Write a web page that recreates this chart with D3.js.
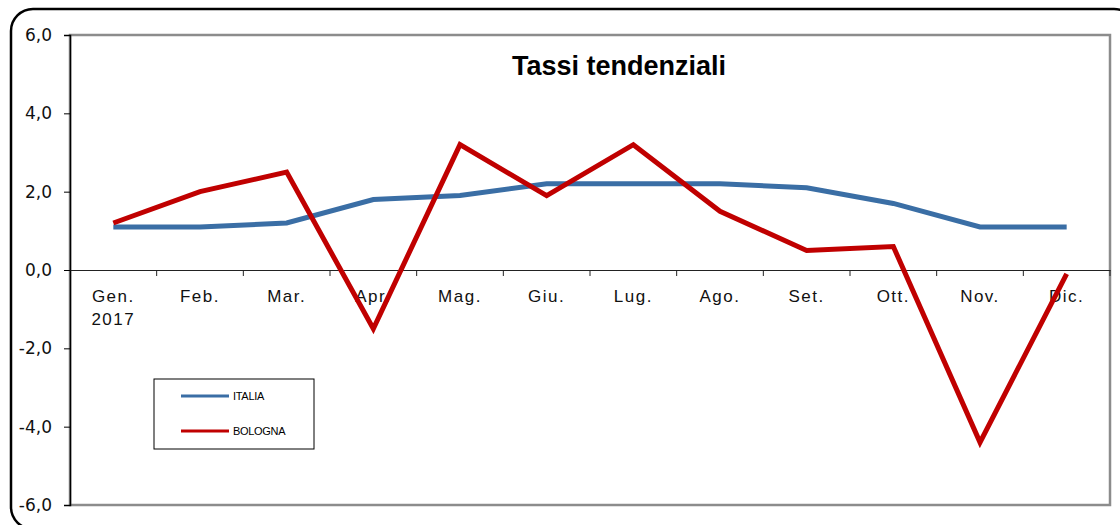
<!DOCTYPE html>
<html>
<head>
<meta charset="utf-8">
<script src="https://cdn.jsdelivr.net/npm/d3@7"></script>
<style>
  body { margin: 0; background: #fff; }
</style>
</head>
<body>
<div id="chart"></div>
<script>
const months = ['Gen.', 'Feb.', 'Mar.', 'Apr.', 'Mag.', 'Giu.', 'Lug.', 'Ago.', 'Set.', 'Ott.', 'Nov.', 'Dic.'];
const italia = [1.1, 1.1, 1.2, 1.8, 1.9, 2.2, 2.2, 2.2, 2.1, 1.7, 1.1, 1.1];
const bologna = [1.2, 2.0, 2.5, -1.5, 3.2, 1.9, 3.2, 1.5, 0.5, 0.6, -4.4, -0.1];
const yTicks = [-6, -4, -2, 0, 2, 4, 6];

const width = 1120;
const height = 525;
const margin = { top: 35, right: 10, bottom: 20, left: 70 };

const svg = d3.select('#chart')
  .append('svg')
  .attr('width', width)
  .attr('height', height);

// outer rounded frame
svg.append('rect')
  .attr('x', 11)
  .attr('y', 9)
  .attr('width', 1125)
  .attr('height', 520)
  .attr('rx', 22)
  .attr('fill', 'none')
  .attr('stroke', '#000')
  .attr('stroke-width', 2.5);

const x = d3.scaleBand()
  .domain(months)
  .range([margin.left, width - margin.right]);

const y = d3.scaleLinear()
  .domain([-6, 6])
  .range([height - margin.bottom, margin.top]);

// plot area border
svg.append('rect')
  .attr('x', margin.left)
  .attr('y', margin.top)
  .attr('width', width - margin.right - margin.left)
  .attr('height', height - margin.bottom - margin.top)
  .attr('fill', 'none')
  .attr('stroke', '#8c8c8c')
  .attr('stroke-width', 2.5);

// y axis
const yAxis = svg.append('g')
  .attr('transform', `translate(${margin.left},0)`)
  .call(d3.axisLeft(y)
    .tickValues(yTicks)
    .tickSize(6)
    .tickFormat((d) => d3.format('.1f')(d).replace('.', ',').replace('−', '-')));
yAxis.select('.domain').attr('stroke', '#000').attr('stroke-width', 1.5);
yAxis.selectAll('line').attr('stroke', '#000');
yAxis.selectAll('text')
  .attr('x', -18)
  .style('font-family', 'DejaVu Sans, Verdana, sans-serif')
  .style('font-size', '17px')
  .attr('fill', '#111');

// x axis on zero line
const xAxis = svg.append('g')
  .attr('transform', `translate(0,${y(0)})`)
  .call(d3.axisBottom(x).tickSize(0).tickFormat(''));
xAxis.select('.domain').attr('stroke', '#222').attr('stroke-width', 1.2);

svg.append('g')
  .selectAll('line')
  .data(months)
  .join('line')
  .attr('x1', (d) => x(d) + x.bandwidth())
  .attr('x2', (d) => x(d) + x.bandwidth())
  .attr('y1', y(0))
  .attr('y2', y(0) + 6)
  .attr('stroke', '#222');

svg.append('g')
  .selectAll('text')
  .data(months)
  .join('text')
  .attr('x', (d) => x(d) + x.bandwidth() / 2)
  .attr('y', y(0) + 32)
  .attr('text-anchor', 'middle')
  .style('font-family', 'Liberation Sans, Arial, sans-serif')
  .style('font-size', '17px')
  .style('letter-spacing', '1.5px')
  .attr('fill', '#111')
  .text((d) => d);

svg.append('text')
  .attr('x', x(months[0]) + x.bandwidth() / 2)
  .attr('y', y(0) + 55)
  .attr('text-anchor', 'middle')
  .style('font-family', 'Liberation Sans, Arial, sans-serif')
  .style('font-size', '17px')
  .style('letter-spacing', '1.5px')
  .attr('fill', '#111')
  .text('2017');

// title
svg.append('text')
  .attr('x', 619)
  .attr('y', 75)
  .attr('text-anchor', 'middle')
  .style('font-family', 'Liberation Sans, Arial, sans-serif')
  .style('font-weight', 'bold')
  .style('font-size', '27px')
  .text('Tassi tendenziali');

// lines
const line = d3.line()
  .x((d, i) => x(months[i]) + x.bandwidth() / 2)
  .y((d) => y(d));

const series = [
  { name: 'ITALIA', values: italia, color: '#3a6ea5' },
  { name: 'BOLOGNA', values: bologna, color: '#c00000' },
];

svg.append('g')
  .selectAll('path')
  .data(series)
  .join('path')
  .attr('d', (d) => line(d.values))
  .attr('fill', 'none')
  .attr('stroke', (d) => d.color)
  .attr('stroke-width', 5)
  .attr('stroke-linejoin', 'miter');

// legend
const legend = svg.append('g')
  .attr('transform', 'translate(154,379)');

legend.append('rect')
  .attr('width', 160)
  .attr('height', 70)
  .attr('fill', '#fff')
  .attr('stroke', '#000')
  .attr('stroke-width', 1);

legend.selectAll('line')
  .data(series)
  .join('line')
  .attr('x1', 27)
  .attr('x2', 75)
  .attr('y1', (d, i) => 17 + i * 35)
  .attr('y2', (d, i) => 17 + i * 35)
  .attr('stroke', (d) => d.color)
  .attr('stroke-width', 3);

legend.selectAll('text')
  .data(series)
  .join('text')
  .attr('x', 79)
  .attr('y', (d, i) => 21 + i * 35)
  .style('font-family', 'Liberation Sans, Arial, sans-serif')
  .style('font-size', '11px')
  .style('letter-spacing', '-0.3px')
  .text((d) => d.name);
</script>
</body>
</html>
